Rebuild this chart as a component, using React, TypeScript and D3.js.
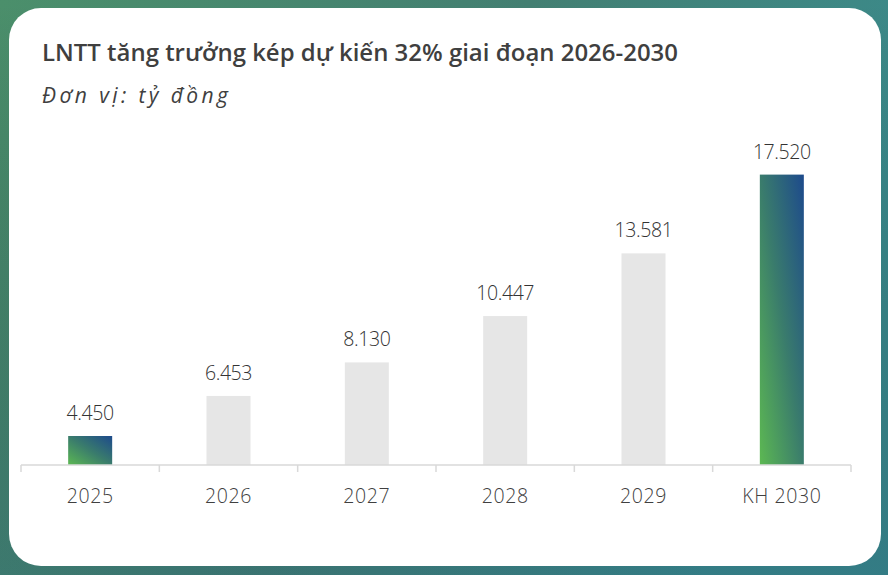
import React from "react";
import * as d3 from "d3";

const categories = ["2025", "2026", "2027", "2028", "2029", "KH 2030"];
const values = [4450, 6453, 8130, 10447, 13581, 17520];
const valueLabels = ["4.450", "6.453", "8.130", "10.447", "13.581", "17.520"];
const highlighted = [true, false, false, false, false, true];
const title = "LNTT tăng trưởng kép dự kiến 32% giai đoạn 2026-2030";
const subtitle = "Đơn vị: tỷ đồng";

const W = 888;
const H = 575;

export default function App() {
  const x = d3.scaleBand<string>().domain(categories).range([21, 851]).paddingInner(0).paddingOuter(0);
  const y = d3.scaleLinear().domain([3000, 20000]).range([465, 125]);
  const bw = 44;
  const font = "'Open Sans', 'Noto Sans', sans-serif";
  const ticks = d3.range(categories.length + 1).map((i) => 21 + i * x.bandwidth());

  return (
    <svg width={W} height={H} style={{ position: "absolute", left: 0, top: 0 }}>
      <defs>
        <linearGradient id="bg" x1="0" y1="0" x2="1" y2="0.3">
          <stop offset="0" stopColor="#4b8f6b" />
          <stop offset="0.55" stopColor="#437f72" />
          <stop offset="1" stopColor="#3b8b8c" />
        </linearGradient>
        <linearGradient id="bgb" x1="0" y1="0" x2="0" y2="1">
          <stop offset="0" stopColor="#000" stopOpacity="0" />
          <stop offset="1" stopColor="#1d4e6e" stopOpacity="0.25" />
        </linearGradient>
        <linearGradient id="rule" x1="0" y1="0" x2="1" y2="0">
          <stop offset="0" stopColor="#5cb85a" />
          <stop offset="0.5" stopColor="#3d8a76" />
          <stop offset="1" stopColor="#1f4a8c" />
        </linearGradient>
        <linearGradient id="barGrad" x1="0" y1="1" x2="1" y2="0">
          <stop offset="0" stopColor="#5cb852" />
          <stop offset="0.5" stopColor="#3a7c6c" />
          <stop offset="1" stopColor="#1d4a8c" />
        </linearGradient>
      </defs>
      <rect x={0} y={0} width={W} height={H} fill="url(#bg)" />
      <rect x={0} y={0} width={W} height={H} fill="url(#bgb)" />
      <rect x={9} y={8} width={872} height={558} rx={32} ry={32} fill="#ffffff" />

      <text x={42} y={61} fontFamily={font} fontWeight={600} fontSize={22.5} fill="#3f3f3f" textLength={636} lengthAdjust="spacingAndGlyphs">
        {title}
      </text>
      <line x1={33} x2={868} y1={71.5} y2={71.5} stroke="url(#rule)" strokeWidth={1.5} />
      <text x={42} y={103} fontFamily={font} fontStyle="italic" fontSize={21} fill="#404040" textLength={186} lengthAdjust="spacing">
        {subtitle}
      </text>

      {categories.map((c, i) => {
        const cx = (x(c) as number) + x.bandwidth() / 2;
        const top = y(values[i]);
        return (
          <g key={c}>
            <rect
              x={cx - bw / 2}
              y={top}
              width={bw}
              height={y(3000) - top}
              fill={highlighted[i] ? "url(#barGrad)" : "#e6e6e6"}
            />
            <text x={cx} y={top - 16} textAnchor="middle" fontFamily={font} fontWeight={300} fontSize={19.5} fill="#333333" letterSpacing={-0.4}>
              {valueLabels[i]}
            </text>
            <text x={cx} y={503} textAnchor="middle" fontFamily={font} fontWeight={300} fontSize={19.5} fill="#404040" letterSpacing={0.6}>
              {c}
            </text>
          </g>
        );
      })}

      <line x1={21} x2={851} y1={465} y2={465} stroke="#d9d9d9" strokeWidth={1.5} />
      {ticks.map((t, i) => (
        <line key={i} x1={t} x2={t} y1={465} y2={472} stroke="#d9d9d9" strokeWidth={1.5} />
      ))}
    </svg>
  );
}
